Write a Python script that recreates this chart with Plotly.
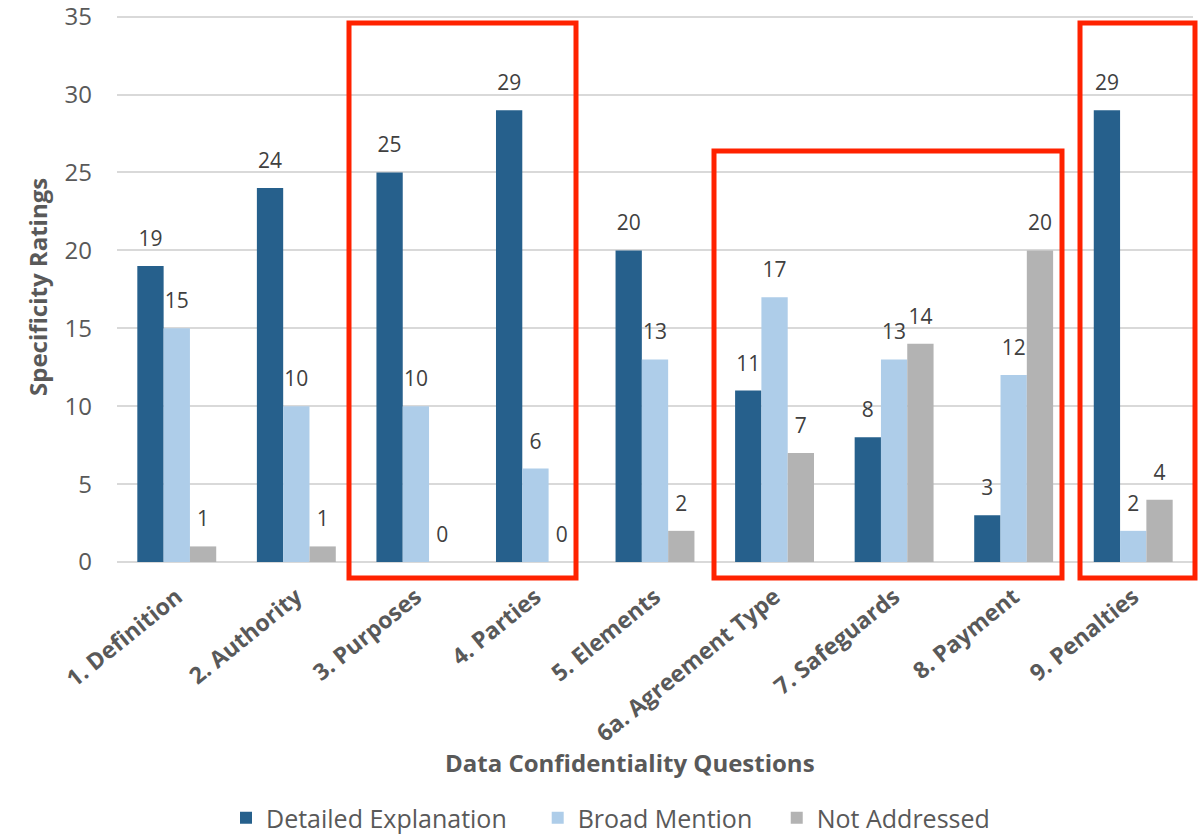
import plotly.graph_objects as go

categories = ["1. Definition", "2. Authority", "3. Purposes", "4. Parties", "5. Elements",
              "6a. Agreement Type", "7. Safeguards", "8. Payment", "9. Penalties"]
detailed = [19, 24, 25, 29, 20, 11, 8, 3, 29]
broad = [15, 10, 10, 6, 13, 17, 13, 12, 2]
not_addressed = [1, 1, 0, 0, 2, 7, 14, 20, 4]
y_ticks = [0, 5, 10, 15, 20, 25, 30, 35]

series = [
    ("Detailed Explanation", detailed, "#26608C"),
    ("Broad Mention", broad, "#AECDE9"),
    ("Not Addressed", not_addressed, "#B3B3B3"),
]
legend_pad = ["\u00a0" * 4, "\u00a0" * 3, ""]

FONT = "Open Sans"
TXT = "#595959"
GAP = 0.34

fig = go.Figure()
for (name, vals, col), pad in zip(series, legend_pad):
    fig.add_trace(go.Bar(
        x=categories, y=vals, name=name + pad,
        marker=dict(color=col, line=dict(width=0)),
        offsetgroup=name,
    ))
# data labels: transparent markers grouped like the bars, text above them
for name, vals, col in series:
    fig.add_trace(go.Scatter(
        x=categories, y=vals, mode="markers+text", showlegend=False,
        offsetgroup=name,
        marker=dict(size=22, color="rgba(0,0,0,0)"),
        text=[str(v) for v in vals], textposition="top center",
        textfont=dict(family=FONT, size=21, color="#404040"),
        cliponaxis=False, hoverinfo="skip",
    ))

W, H = 1204, 835
Y_TOP = 35.3
L, R, T, B = 117, 11, 12, 273
pw, ph = W - L - R, H - T - B


def dx(px):
    return (px - L) / pw


def dy(py):
    return (H - B - py) / ph


boxes = [(349, 23, 576, 578), (714, 151, 1062, 578), (1080, 23, 1195, 578)]
shapes = []
for x0, y0, x1, y1 in boxes:
    shapes.append(dict(type="rect", xref="x domain", yref="y domain",
                       x0=dx(x0), x1=dx(x1), y0=dy(y1), y1=dy(y0),
                       line=dict(color="#FF2200", width=5), fillcolor="rgba(0,0,0,0)",
                       layer="above"))

fig.update_layout(
    width=W, height=H,
    margin=dict(l=L, r=R, t=T, b=B, autoexpand=False),
    paper_bgcolor="white", plot_bgcolor="white",
    barmode="group", bargap=GAP, bargroupgap=0,
    scattermode="group", scattergap=GAP,
    font=dict(family=FONT, color=TXT),
    showlegend=True,
    legend=dict(orientation="h", x=dx(226), xanchor="left",
                yref="container", y=(H - 818) / H, yanchor="middle",
                font=dict(family=FONT, size=25, color=TXT), traceorder="normal",
                itemwidth=30),
    shapes=shapes,
    annotations=[
        dict(text="<b>Data Confidentiality Questions</b>", xref="paper", yref="paper",
             x=dx(630), y=dy(762), xanchor="center", yanchor="middle", showarrow=False,
             font=dict(family=FONT, size=24, color=TXT)),
        dict(text="<b>Specificity Ratings</b>", xref="paper", yref="paper", textangle=-90,
             x=dx(37), y=dy(287), xanchor="center", yanchor="middle", showarrow=False,
             font=dict(family=FONT, size=24, color=TXT)),
    ],
    yaxis=dict(range=[0, Y_TOP], tickvals=y_ticks, showgrid=True, gridcolor="#D9D9D9", gridwidth=1.5,
               zeroline=True, zerolinecolor="#D9D9D9", zerolinewidth=1.5, showline=False,
               ticks="", ticklabelstandoff=24, automargin=False, ticklabeloverflow="allow",
               tickfont=dict(family=FONT, size=24, color=TXT)),
    xaxis=dict(tickangle=-39, ticks="", showline=False, ticklabelstandoff=16, automargin=False,
               tickfont=dict(family=FONT, size=23, color=TXT, weight="bold")),
)

fig.write_html("out.html", config={"displayModeBar": False},
               post_script="document.body.style.margin='0';")
